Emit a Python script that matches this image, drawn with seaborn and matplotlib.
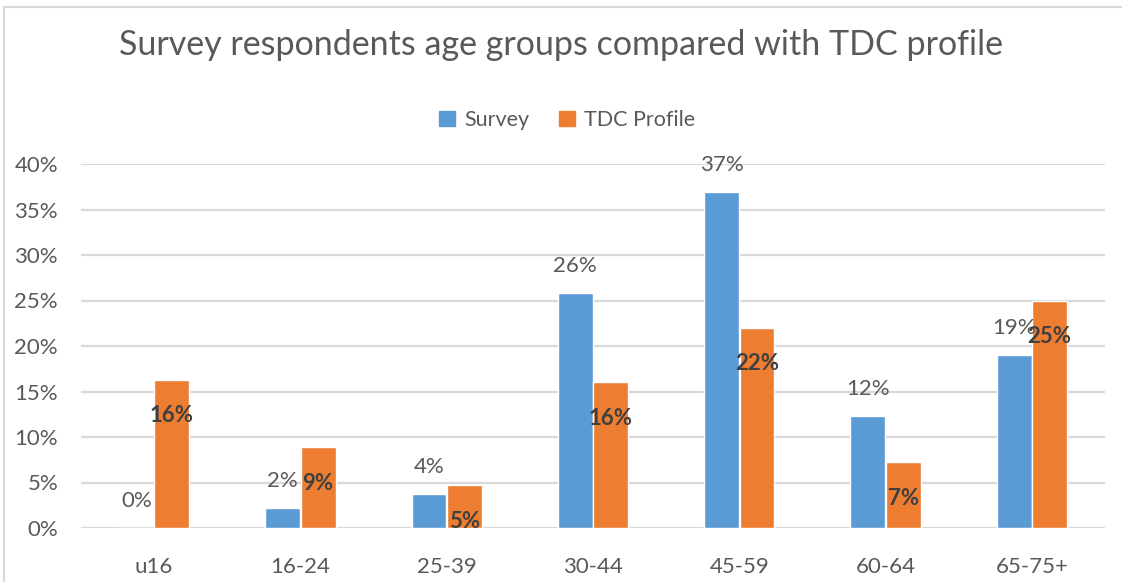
import matplotlib
matplotlib.use("Agg")
import matplotlib.pyplot as plt
import seaborn as sns
import pandas as pd
from matplotlib.patches import Rectangle

categories = ["u16", "16-24", "25-39", "30-44", "45-59", "60-64", "65-75+"]
survey = [0.0, 2.2, 3.7, 25.8, 36.9, 12.3, 19.0]
tdc = [16.3, 8.9, 4.7, 16.0, 22.0, 7.2, 25.0]
series_names = ["Survey", "TDC Profile"]
yticks = [0, 5, 10, 15, 20, 25, 30, 35, 40]
title = "Survey respondents age groups compared with TDC profile"

BLUE = "#5B9BD5"
ORANGE = "#ED7D31"
TXT = "#595959"
GRID = "#D9D9D9"

sns.set_theme(style="white")
plt.rcParams["font.family"] = ["Lato", "DejaVu Sans"]

df = pd.DataFrame({
    "cat": categories * 2,
    "val": survey + tdc,
    "series": [series_names[0]] * len(categories) + [series_names[1]] * len(categories),
})

fig = plt.figure(figsize=(11.22, 5.82), dpi=100)
ax = fig.add_axes([81 / 1122, (582 - 528) / 582, (1105 - 81) / 1122, (528 - 164) / 582])

sns.barplot(data=df, x="cat", y="val", hue="series", order=categories,
            hue_order=series_names, palette=[BLUE, ORANGE], width=0.485,
            gap=0.02, ax=ax, legend=False, saturation=1)

ax.set_ylim(0, 40)
ax.set_yticks(yticks)
ax.set_yticklabels([f"{t}%" for t in yticks])
ax.yaxis.grid(True, color=GRID, linewidth=1.6)
ax.set_axisbelow(True)
for s in ax.spines.values():
    s.set_visible(False)
ax.set_xlabel("")
ax.set_ylabel("")
ax.tick_params(axis="y", length=0, pad=16.5, labelsize=16, labelcolor=TXT)
ax.tick_params(axis="x", length=0, pad=21, labelsize=16, labelcolor=TXT)

# data labels
cont_s, cont_t = ax.containers[0], ax.containers[1]
for bar, v in zip(cont_s, survey):
    x = bar.get_x() + bar.get_width() / 2
    ax.annotate(f"{round(v):.0f}%", (x, v), xytext=(0, 27), textcoords="offset pixels",
                ha="center", va="center", fontsize=16, color=TXT)
for bar, v in zip(cont_t, tdc):
    x = bar.get_x() + bar.get_width() / 2
    t = ax.annotate(f"{round(v):.0f}%", (x, v), xytext=(0, -36), textcoords="offset pixels",
                    ha="center", va="center", fontsize=16, color="#404040", fontweight="bold",
                    annotation_clip=False)
    t.set_clip_on(True)

# title
fig.text(0.5, 1 - 45 / 582, title, ha="center", va="center", fontsize=24.5, color=TXT)

# legend
handles = [Rectangle((0, 0), 1, 1, color=BLUE), Rectangle((0, 0), 1, 1, color=ORANGE)]
fig.legend(handles, series_names, loc="center", bbox_to_anchor=(567 / 1122, 1 - 120 / 582),
           ncol=2, frameon=False, fontsize=15.5, labelcolor=TXT, handlelength=0.75,
           handleheight=0.75, handletextpad=0.4, columnspacing=1.4)

# chart border
fig.add_artist(Rectangle((4 / 1122, -0.1), 1.2, 1.1 - 7 / 582, transform=fig.transFigure,
                         fill=False, edgecolor=GRID, linewidth=1.5))

fig.savefig("out.png", dpi=100, facecolor="white")
